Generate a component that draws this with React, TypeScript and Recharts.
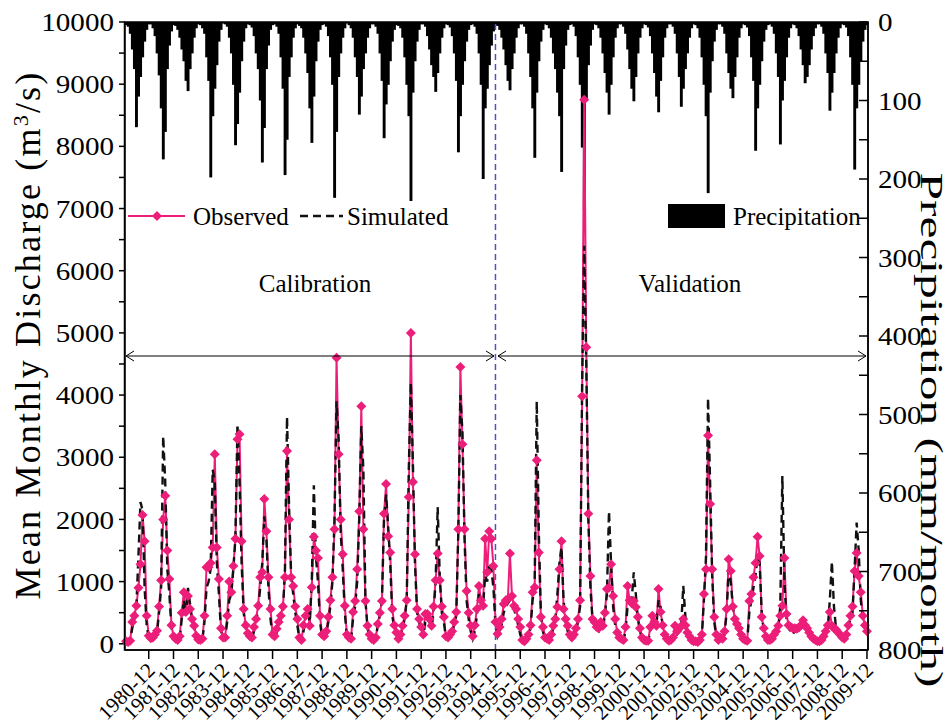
import React from "react";
import { Bar, ComposedChart, Line, ReferenceLine, XAxis, YAxis } from "recharts";

const FONT = "'Liberation Serif', 'Times New Roman', serif";
const PINK = "#ec1e79";

const years = [
  1980, 1981, 1982, 1983, 1984, 1985, 1986, 1987, 1988, 1989, 1990, 1991, 1992, 1993, 1994,
  1995, 1996, 1997, 1998, 1999, 2000, 2001, 2002, 2003, 2004, 2005, 2006, 2007, 2008, 2009,
];
const months = ["01", "02", "03", "04", "05", "06", "07", "08", "09", "10", "11", "12"];

// observed mean monthly discharge (m3/s), one row per year, Jan..Dec
const observed = [
  [40, 30, 50, 350, 450, 610, 900, 1280, 2070, 1650, 450, 130],
  [90, 100, 150, 210, 600, 1020, 2000, 2380, 1500, 1040, 300, 120],
  [80, 60, 120, 500, 830, 510, 770, 560, 400, 290, 130, 70],
  [60, 80, 450, 1230, 1230, 1300, 1550, 3050, 1550, 1040, 250, 100],
  [100, 450, 1000, 830, 1250, 1690, 3290, 3370, 1650, 560, 300, 170],
  [120, 100, 270, 400, 610, 1070, 1150, 2330, 1810, 1070, 560, 150],
  [120, 240, 350, 450, 600, 1070, 3100, 2000, 1070, 930, 600, 400],
  [100, 60, 300, 450, 560, 290, 910, 1720, 1500, 1380, 450, 150],
  [120, 200, 430, 700, 1070, 1840, 4600, 3050, 2000, 1440, 610, 150],
  [100, 80, 510, 690, 1200, 2130, 3820, 1840, 690, 290, 150, 80],
  [60, 100, 320, 500, 690, 2090, 2570, 1730, 1470, 560, 300, 180],
  [80, 150, 290, 450, 700, 2360, 5000, 2600, 1440, 560, 400, 270],
  [150, 480, 480, 400, 290, 600, 1020, 1450, 1020, 600, 430, 120],
  [100, 150, 200, 350, 510, 1840, 4450, 3210, 1840, 850, 500, 290],
  [120, 300, 560, 930, 700, 610, 1690, 1150, 1810, 1690, 1250, 350],
  [160, 270, 400, 640, 700, 720, 1450, 770, 610, 560, 400, 270],
  [60, 40, 80, 150, 300, 830, 910, 2950, 1470, 430, 270, 100],
  [80, 60, 150, 290, 400, 590, 1200, 1650, 560, 400, 290, 150],
  [100, 150, 250, 400, 700, 3980, 8750, 4770, 2090, 1090, 400, 350],
  [270, 250, 350, 290, 500, 880, 900, 1280, 770, 400, 180, 100],
  [80, 60, 270, 930, 700, 650, 690, 590, 430, 250, 100, 60],
  [50, 50, 270, 450, 350, 290, 880, 510, 300, 150, 80, 50],
  [60, 100, 290, 200, 250, 280, 400, 300, 180, 120, 60, 40],
  [40, 30, 60, 150, 800, 1200, 3350, 2250, 1200, 430, 150, 60],
  [100, 80, 200, 560, 1360, 1170, 600, 400, 320, 250, 150, 80],
  [60, 50, 690, 800, 1070, 1300, 1720, 1410, 430, 250, 120, 60],
  [60, 80, 150, 200, 290, 450, 610, 1380, 480, 300, 270, 250],
  [250, 240, 260, 300, 380, 300, 250, 180, 120, 80, 60, 40],
  [40, 60, 120, 200, 300, 510, 290, 250, 230, 180, 150, 100],
  [80, 150, 300, 450, 600, 1170, 1460, 1090, 830, 450, 300, 200],
];

// simulated mean monthly discharge (m3/s)
const simulated = [
  [30, 20, 40, 250, 400, 600, 1400, 2280, 2150, 900, 300, 90],
  [60, 80, 120, 180, 500, 900, 3340, 2600, 1200, 800, 250, 90],
  [50, 40, 80, 400, 700, 450, 900, 650, 400, 250, 90, 50],
  [40, 60, 350, 900, 1000, 1200, 2800, 2600, 1300, 800, 200, 70],
  [80, 350, 700, 800, 1200, 1700, 3530, 2600, 1300, 500, 250, 120],
  [80, 60, 200, 350, 550, 900, 1300, 2050, 1700, 900, 400, 100],
  [80, 180, 300, 400, 500, 1200, 3650, 2200, 1100, 800, 500, 300],
  [70, 40, 200, 400, 550, 350, 1000, 2550, 1400, 1000, 350, 100],
  [90, 150, 350, 600, 1000, 2000, 3900, 3300, 1800, 1200, 500, 120],
  [80, 60, 400, 600, 1000, 2000, 3500, 2800, 700, 250, 120, 60],
  [50, 80, 300, 450, 700, 2000, 2400, 1900, 1300, 450, 250, 150],
  [60, 120, 250, 400, 700, 2800, 4200, 2900, 1300, 500, 350, 200],
  [100, 350, 400, 350, 250, 500, 1000, 2200, 1100, 500, 350, 90],
  [80, 120, 180, 300, 450, 1800, 4000, 3400, 1700, 700, 400, 200],
  [80, 200, 450, 800, 650, 600, 1100, 1000, 1300, 1200, 900, 300],
  [120, 200, 300, 500, 600, 650, 700, 650, 550, 450, 300, 150],
  [40, 30, 60, 120, 250, 700, 1000, 3900, 1800, 500, 200, 60],
  [60, 40, 100, 250, 400, 800, 1300, 1550, 700, 350, 200, 100],
  [80, 120, 200, 350, 600, 4200, 6400, 4500, 2000, 900, 400, 300],
  [220, 200, 300, 250, 450, 800, 2130, 1300, 600, 300, 150, 80],
  [60, 50, 200, 600, 650, 700, 1150, 800, 400, 200, 80, 40],
  [40, 40, 200, 400, 300, 300, 700, 600, 280, 130, 60, 30],
  [40, 80, 200, 150, 200, 300, 930, 450, 200, 100, 50, 30],
  [30, 20, 40, 120, 700, 1400, 3950, 2600, 1100, 350, 120, 50],
  [80, 60, 150, 500, 1200, 1000, 600, 350, 300, 200, 120, 60],
  [40, 40, 500, 700, 900, 1100, 1400, 1300, 500, 200, 90, 40],
  [40, 60, 120, 150, 250, 600, 2700, 1000, 400, 250, 200, 150],
  [200, 200, 220, 280, 350, 280, 230, 160, 110, 70, 50, 30],
  [30, 40, 100, 150, 250, 700, 1320, 600, 250, 150, 100, 60],
  [60, 120, 250, 400, 500, 1200, 1950, 1500, 700, 400, 250, 150],
];

// monthly precipitation (mm/month)
const precipitation = [
  [4, 6, 15, 35, 60, 134, 95, 70, 45, 25, 10, 3],
  [3, 8, 18, 40, 68, 110, 175, 140, 60, 30, 12, 4],
  [5, 10, 20, 35, 50, 75, 88, 60, 40, 20, 8, 3],
  [4, 8, 15, 45, 75, 198, 120, 85, 55, 25, 10, 2],
  [3, 6, 20, 40, 80, 157, 130, 90, 50, 25, 8, 3],
  [4, 7, 18, 40, 60, 100, 179, 135, 60, 30, 10, 4],
  [3, 6, 15, 45, 85, 195, 150, 70, 45, 20, 8, 3],
  [5, 8, 20, 40, 65, 110, 154, 95, 50, 25, 10, 4],
  [3, 6, 18, 45, 80, 224, 140, 70, 40, 20, 8, 2],
  [4, 8, 20, 45, 70, 118, 95, 60, 40, 20, 8, 3],
  [3, 6, 15, 40, 75, 148, 105, 80, 50, 25, 10, 4],
  [5, 8, 20, 45, 80, 120, 228, 90, 50, 25, 10, 3],
  [3, 6, 18, 35, 55, 70, 89, 65, 40, 20, 8, 3],
  [4, 7, 18, 40, 75, 166, 120, 80, 50, 25, 10, 4],
  [3, 6, 15, 40, 80, 200, 110, 85, 55, 30, 12, 4],
  [5, 10, 20, 35, 55, 75, 87, 60, 40, 20, 8, 3],
  [3, 6, 15, 40, 70, 110, 173, 90, 50, 25, 10, 3],
  [4, 8, 20, 40, 60, 90, 120, 191, 60, 30, 10, 4],
  [3, 6, 18, 45, 80, 160, 240, 100, 55, 30, 10, 3],
  [4, 8, 20, 40, 65, 90, 118, 80, 45, 20, 8, 3],
  [3, 6, 15, 35, 60, 85, 101, 70, 40, 20, 8, 3],
  [4, 7, 18, 40, 65, 95, 115, 75, 45, 20, 8, 3],
  [3, 6, 15, 40, 70, 108, 85, 60, 40, 20, 8, 3],
  [4, 8, 20, 45, 80, 120, 218, 90, 50, 25, 10, 3],
  [3, 6, 15, 40, 65, 85, 97, 70, 45, 20, 8, 3],
  [4, 7, 18, 45, 75, 164, 110, 80, 50, 25, 10, 4],
  [3, 6, 15, 40, 70, 156, 100, 75, 45, 20, 8, 3],
  [4, 8, 18, 35, 55, 78, 70, 55, 35, 18, 8, 3],
  [3, 6, 15, 40, 65, 113, 90, 65, 40, 20, 8, 3],
  [4, 7, 18, 45, 80, 188, 110, 80, 50, 25, 10, 4],
];

const decemberTicks = years.map((y) => `${y}-12`);
const dischargeTicks = [
  0, 500, 1000, 1500, 2000, 2500, 3000, 3500, 4000, 4500, 5000, 5500, 6000, 6500, 7000, 7500,
  8000, 8500, 9000, 9500, 10000,
];
const rainTicks = [0, 50, 100, 150, 200, 250, 300, 350, 400, 450, 500, 550, 600, 650, 700, 750, 800];
const splitMonth = "1994-12";

const data = years.flatMap((y, i) =>
  months.map((m, j) => ({
    month: `${y}-${m}`,
    obs: observed[i][j],
    sim: simulated[i][j],
    rain: precipitation[i][j],
  }))
);

const LeftTick = ({ x, y, payload }: any) =>
  payload.value % 1000 === 0 ? (
    <text
      transform={`translate(${x},${y}) scale(1.12,1)`}
      dy="0.35em"
      textAnchor="end"
      fontSize={26}
      fontFamily={FONT}
      fill="#000"
    >
      {payload.value}
    </text>
  ) : (
    <g />
  );

const RightTick = ({ x, y, payload }: any) => {
  const axisX = x - 10;
  return (
    <g>
      <line x1={axisX - 9} x2={axisX} y1={y} y2={y} stroke="#000" strokeWidth={1.5} />
      {payload.value % 100 === 0 && (
        <text
          transform={`translate(${x},${y}) scale(1.12,1)`}
          dy="0.35em"
          textAnchor="start"
          fontSize={26}
          fontFamily={FONT}
          fill="#000"
        >
          {payload.value}
        </text>
      )}
    </g>
  );
};

const MonthTick = ({ x, y, payload }: any) => (
  <text
    x={x + 3}
    y={y}
    dy="0.3em"
    textAnchor="end"
    fontSize={21}
    fontFamily={FONT}
    fill="#000"
    transform={`rotate(-45 ${x + 3} ${y})`}
  >
    {payload.value}
  </text>
);

const RainBar = (props: any) => {
  const { x, y, width, height } = props;
  if (x == null || y == null) return <g />;
  const top = Math.min(y, y + height);
  return <rect x={x - 0.3} y={top} width={width + 0.9} height={Math.abs(height)} fill="#000" />;
};

const renderDiamond = (props: any) => {
  const { cx, cy, index } = props;
  if (cx == null || cy == null) return <g key={`d-${index}`} />;
  const r = 5;
  return (
    <path
      key={`d-${index}`}
      d={`M${cx},${cy - r}L${cx + r},${cy}L${cx},${cy + r}L${cx - r},${cy}Z`}
      fill={PINK}
    />
  );
};

export default function App() {
  return (
    <div style={{ position: "absolute", left: 0, top: 0, width: 950, height: 727, background: "#fff" }}>
      <ComposedChart
        width={950}
        height={727}
        data={data}
        margin={{ top: 22, right: 0, bottom: 0, left: 0 }}
        barCategoryGap={0}
        barGap={0}
      >
        <XAxis
          dataKey="month"
          ticks={decemberTicks}
          interval={0}
          height={77}
          tickSize={9}
          tickMargin={8}
          tick={<MonthTick />}
          axisLine={{ stroke: "#000", strokeWidth: 1.5 }}
          tickLine={{ stroke: "#000", strokeWidth: 1.5 }}
        />
        <YAxis
          yAxisId="q"
          domain={[-100, 10000]}
          ticks={dischargeTicks}
          interval={0}
          width={125}
          tickSize={6}
          tickMargin={5}
          tick={<LeftTick />}
          axisLine={{ stroke: "#000", strokeWidth: 1.5 }}
          tickLine={{ stroke: "#000", strokeWidth: 1.5 }}
        />
        <YAxis
          yAxisId="p"
          orientation="right"
          reversed
          domain={[0, 800]}
          ticks={rainTicks}
          interval={0}
          width={82}
          tickSize={0}
          tickMargin={10}
          tickLine={false}
          tick={<RightTick />}
          axisLine={{ stroke: "#000", strokeWidth: 1.5 }}
        />
        <Bar yAxisId="p" dataKey="rain" fill="#000" shape={<RainBar />} isAnimationActive={false} />
        <ReferenceLine yAxisId="q" x={splitMonth} stroke="#4a52c4" strokeWidth={1.5} strokeDasharray="6 4" />
        <Line
          yAxisId="q"
          type="linear"
          dataKey="obs"
          stroke={PINK}
          strokeWidth={2}
          dot={renderDiamond}
          activeDot={false}
          isAnimationActive={false}
        />
        <Line
          yAxisId="q"
          type="linear"
          dataKey="sim"
          stroke="#111"
          strokeWidth={2.4}
          strokeDasharray="8 5"
          dot={false}
          activeDot={false}
          isAnimationActive={false}
        />
      </ComposedChart>
      <svg
        width={950}
        height={727}
        style={{ position: "absolute", left: 0, top: 0, pointerEvents: "none" }}
        fontFamily={FONT}
      >
        <rect x={124.5} y={22} width={743.5} height={628} fill="none" stroke="#000" strokeWidth={1.5} />
        {/* legend */}
        <line x1={128} x2={185} y1={216} y2={216} stroke={PINK} strokeWidth={2} />
        <path d="M157,211L162,216L157,221L152,216Z" fill={PINK} />
        <text x={193} y={216} dy="0.35em" fontSize={25}>Observed</text>
        <line x1={300} x2={343} y1={216} y2={216} stroke="#111" strokeWidth={2.4} strokeDasharray="8 5" />
        <text x={347} y={216} dy="0.35em" fontSize={25}>Simulated</text>
        <rect x={668} y={204} width={57} height={24} fill="#000" />
        <text x={733} y={216} dy="0.35em" fontSize={25}>Precipitation</text>
        {/* calibration / validation periods */}
        <line x1={126} x2={494} y1={356} y2={356} stroke="#000" strokeWidth={1} />
        <path d="M134,351L126,356L134,361M486,351L494,356L486,361" fill="none" stroke="#000" strokeWidth={1} />
        <line x1={498} x2={866} y1={356} y2={356} stroke="#000" strokeWidth={1} />
        <path d="M506,351L498,356L506,361M858,351L866,356L858,361" fill="none" stroke="#000" strokeWidth={1} />
        <text x={315} y={292} textAnchor="middle" fontSize={25}>Calibration</text>
        <text x={690} y={292} textAnchor="middle" fontSize={25}>Validation</text>
        {/* axis titles */}
        <text
          transform="translate(40,335) rotate(-90)"
          textAnchor="middle"
          fontSize={36}
          letterSpacing={2.2}
        >
          Mean Monthly Discharge (m<tspan dy={-12} fontSize={22}>3</tspan>
          <tspan dy={12}>/s)</tspan>
        </text>
        <text
          transform="translate(921,430) rotate(90)"
          textAnchor="middle"
          fontSize={32}
          textLength={515}
          lengthAdjust="spacingAndGlyphs"
        >
          Precipitation (mm/month)
        </text>
      </svg>
    </div>
  );
}
